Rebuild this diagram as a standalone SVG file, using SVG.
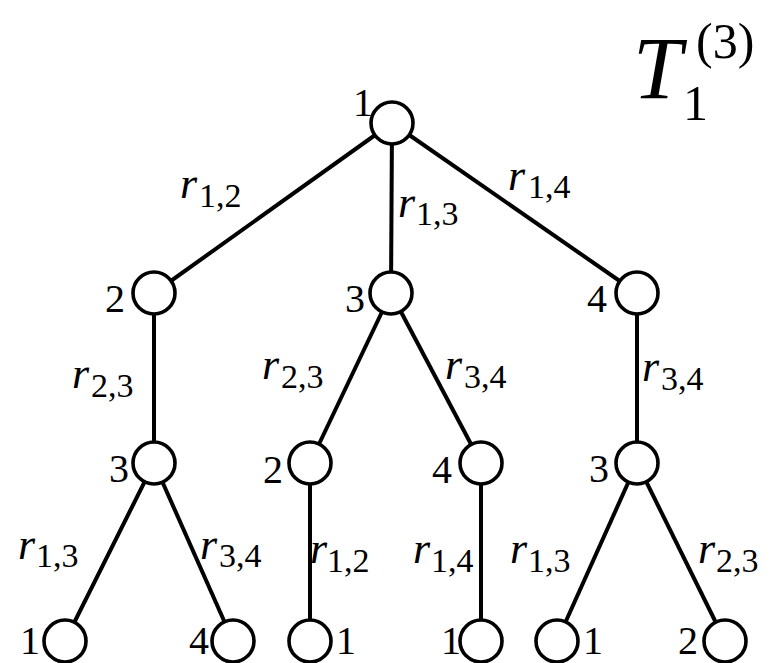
<svg xmlns="http://www.w3.org/2000/svg" width="770" height="663" viewBox="0 0 770 663">
<style>
.e{stroke:#000;stroke-width:4;fill:none}
.n{fill:#fff;stroke:#000;stroke-width:3.6}
.lab{font-family:'Liberation Serif','Times New Roman','DejaVu Serif',serif;font-size:40px;fill:#000}
.r{font-family:'Liberation Serif','Times New Roman','DejaVu Serif',serif;font-size:44px;font-style:italic;fill:#000}
.s{font-style:normal;font-size:34px}
.t{font-family:'Liberation Serif','Times New Roman','DejaVu Serif',serif;fill:#000}
</style>
<rect width="770" height="663" fill="#fff"/>
<g id="connectors">
<line class="e" x1="392" y1="123" x2="154" y2="293"/>
<line class="e" x1="392" y1="123" x2="391" y2="293"/>
<line class="e" x1="392" y1="123" x2="637" y2="293"/>
<line class="e" x1="154" y1="293" x2="154" y2="463"/>
<line class="e" x1="154" y1="463" x2="65" y2="641"/>
<line class="e" x1="154" y1="463" x2="233" y2="641"/>
<line class="e" x1="391" y1="293" x2="310" y2="463"/>
<line class="e" x1="391" y1="293" x2="481" y2="463"/>
<line class="e" x1="310" y1="463" x2="310" y2="641"/>
<line class="e" x1="481" y1="463" x2="481" y2="641"/>
<line class="e" x1="637" y1="293" x2="637" y2="463"/>
<line class="e" x1="637" y1="463" x2="557" y2="641"/>
<line class="e" x1="637" y1="463" x2="725" y2="641"/>
</g>
<g id="edge-labels">
<text class="r" x="180" y="198">r<tspan class="s" x="199" y="207">1,2</tspan></text>
<text class="r" x="398" y="217">r<tspan class="s" x="416" y="225">1,3</tspan></text>
<text class="r" x="508" y="190">r<tspan class="s" x="528" y="198">1,4</tspan></text>
<text class="r" x="72" y="388">r<tspan class="s" x="91" y="397">2,3</tspan></text>
<text class="r" x="262" y="379">r<tspan class="s" x="281" y="388">2,3</tspan></text>
<text class="r" x="445" y="379">r<tspan class="s" x="464" y="388">3,4</tspan></text>
<text class="r" x="642" y="381">r<tspan class="s" x="661" y="390">3,4</tspan></text>
<text class="r" x="18" y="559">r<tspan class="s" x="36" y="567">1,3</tspan></text>
<text class="r" x="200" y="559">r<tspan class="s" x="219" y="567">3,4</tspan></text>
<text class="r" x="310" y="563">r<tspan class="s" x="327" y="572">1,2</tspan></text>
<text class="r" x="413" y="563">r<tspan class="s" x="431" y="572">1,4</tspan></text>
<text class="r" x="510" y="563">r<tspan class="s" x="528" y="572">1,3</tspan></text>
<text class="r" x="698" y="563">r<tspan class="s" x="716" y="572">2,3</tspan></text>
</g>
<g id="n-root"><circle class="n" cx="392" cy="123" r="21"/><text class="lab" x="353" y="116">1</text></g>
<g id="n-2"><circle class="n" cx="154" cy="293" r="21"/><text class="lab" x="105" y="312">2</text></g>
<g id="n-3"><circle class="n" cx="391" cy="293" r="21"/><text class="lab" x="345" y="312">3</text></g>
<g id="n-4"><circle class="n" cx="637" cy="293" r="21"/><text class="lab" x="587" y="312">4</text></g>
<g id="n-2-3"><circle class="n" cx="154" cy="463" r="21"/><text class="lab" x="109" y="482">3</text></g>
<g id="n-3-2"><circle class="n" cx="310" cy="463" r="21"/><text class="lab" x="263" y="483">2</text></g>
<g id="n-3-4"><circle class="n" cx="481" cy="463" r="21"/><text class="lab" x="432" y="483">4</text></g>
<g id="n-4-3"><circle class="n" cx="637" cy="463" r="21"/><text class="lab" x="589" y="482">3</text></g>
<g id="n-leaf1"><circle class="n" cx="65" cy="641" r="21"/><text class="lab" x="20" y="654">1</text></g>
<g id="n-leaf2"><circle class="n" cx="233" cy="641" r="21"/><text class="lab" x="189" y="654">4</text></g>
<g id="n-leaf3"><circle class="n" cx="310" cy="641" r="21"/><text class="lab" x="336" y="654">1</text></g>
<g id="n-leaf4"><circle class="n" cx="481" cy="641" r="21"/><text class="lab" x="441" y="654">1</text></g>
<g id="n-leaf5"><circle class="n" cx="557" cy="641" r="21"/><text class="lab" x="583" y="654">1</text></g>
<g id="n-leaf6"><circle class="n" cx="725" cy="641" r="21"/><text class="lab" x="678" y="654">2</text></g>
<g id="title">
<text class="t" x="633" y="98" font-size="88" font-style="italic">T</text>
<text class="t" x="683" y="120" font-size="50">1</text>
<text class="t" x="696" y="58" font-size="50">(3)</text>
</g>
</svg>
